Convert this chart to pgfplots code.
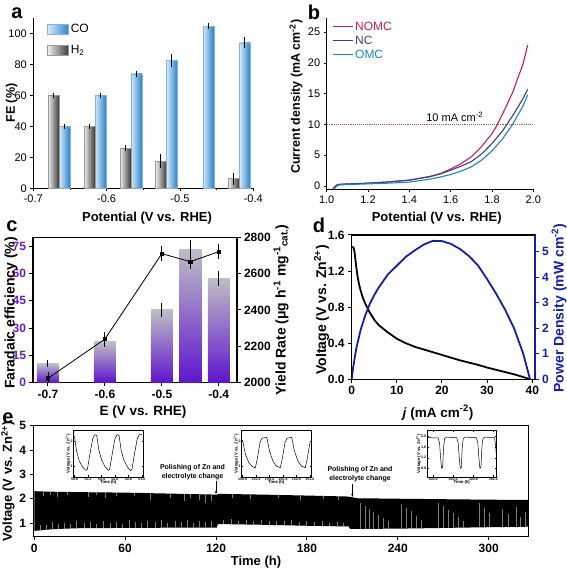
\documentclass[border=0pt]{standalone}
\usepackage{fontspec}
\setmainfont{Liberation Sans}
\usepackage{pgfplots}
\pgfplotsset{compat=1.18}
\usetikzlibrary{arrows.meta}
\definecolor{cob}{RGB}{45,130,200}
\definecolor{cobl}{RGB}{215,235,250}
\definecolor{hd}{RGB}{60,60,60}
\definecolor{hl}{RGB}{240,240,240}
\definecolor{nomc}{RGB}{200,30,80}
\definecolor{nc}{RGB}{60,62,145}
\definecolor{omc}{RGB}{25,135,185}
\definecolor{pur}{RGB}{100,30,205}
\definecolor{purbar}{RGB}{95,20,205}
\definecolor{greybar}{RGB}{190,190,196}
\definecolor{pblue}{RGB}{20,30,170}
\definecolor{spk}{RGB}{125,125,125}
\newcommand{\fs}[1]{\fontsize{#1}{#1}\selectfont}
\pgfplotsset{every axis/.append style={scale only axis, anchor=south west,
  /pgf/number format/assume math mode=true, /pgf/number format/1000 sep={}},
  inset/.style={width=69.5pt, height=47pt, tick align=inside, major tick length=1.5pt,
  axis line style={line width=0.4pt}, tick style={line width=0.3pt, black},
  ticklabel style={font=\bfseries\fs{3.6}, inner sep=0.6pt},
  xlabel={Time (h)}, ylabel={Voltage (V vs. Zn\textsuperscript{2+})},
  label style={font=\bfseries\fs{4.2}},
  xlabel style={yshift=4pt}, ylabel style={yshift=-4pt}},
  cobar/.style={forget plot, ybar, bar width=0.015, bar shift=0pt, draw=cob!60!white, line width=0.4pt, left color=cobl, right color=cob},
  hbar/.style={forget plot, ybar, bar width=0.015, bar shift=0pt, draw=gray!80, line width=0.4pt, left color=hl, right color=hd},
  fbar/.style={forget plot, ybar, bar width=0.0386, bar shift=0pt, draw=none, top color=greybar, bottom color=purbar}}
\begin{document}
\begin{tikzpicture}[x=1pt,y=1pt]
\useasboundingbox (0,0) rectangle (567,571);
%================ panel a
\begin{axis}[at={(33.3pt,382.7pt)}, width=220pt, height=170.3pt,
  xmin=-0.7, xmax=-0.4, ymin=0, ymax=110,
  axis x line*=bottom, axis y line*=left, axis line style={line width=0.7pt},
  xtick={-0.7,-0.6,-0.5,-0.4}, xticklabels={-0.7,-0.6,-0.5,-0.4}, minor xtick={-0.65,-0.55,-0.45},
  ytick={0,20,40,60,80,100},
  tick align=outside, major tick length=3pt, minor tick length=2pt, tick style={line width=0.7pt, black},
  ticklabel style={font=\fs{11}},
  legend style={at={(0.063,0.975)}, anchor=north west, draw=none, fill=none, font=\fs{12}, row sep=7pt, inner sep=0pt},
  legend cell align=left]
\addlegendimage{legend image code/.code={\draw[draw=cob!60!white,line width=0.4pt,left color=cobl,right color=cob] (0pt,-5pt) rectangle (21pt,5pt);}}
\addlegendentry{CO}
\addlegendimage{legend image code/.code={\draw[draw=gray!80,line width=0.4pt,left color=hl,right color=hd] (0pt,-5pt) rectangle (21pt,5pt);}}
\addlegendentry{H\textsubscript{2}}
\addplot[cobar] coordinates {(-0.6575,40)};
\addplot[cobar] coordinates {(-0.6085,60)};
\addplot[cobar] coordinates {(-0.5595,74)};
\addplot[cobar] coordinates {(-0.511,82.5)};
\addplot[cobar] coordinates {(-0.4614,104.7)};
\addplot[cobar] coordinates {(-0.4117,94)};
\addplot[hbar] coordinates {(-0.6725,60)};
\addplot[hbar] coordinates {(-0.6235,40)};
\addplot[hbar] coordinates {(-0.5745,26)};
\addplot[hbar] coordinates {(-0.526,17.5)};
\addplot[hbar] coordinates {(-0.4267,6.2)};
\addplot[forget plot, draw=none, mark=none, error bars/.cd, y dir=both, y explicit,
  error bar style={draw=black, line width=0.8pt}, error mark options={draw=black, line width=0.8pt, mark size=1.6pt}]
 coordinates {(-0.6575,40) +- (0,0.6) (-0.6085,60) +- (0,0.6) (-0.5595,74) +- (0,1) (-0.511,82.5) +- (0,3) (-0.4614,104.7) +- (0,1) (-0.4117,94) +- (0,2.5)
 (-0.6725,60) +- (0,0.6) (-0.6235,40) +- (0,0.6) (-0.5745,26) +- (0,1) (-0.526,17.5) +- (0,3.5) (-0.4267,6.2) +- (0,2.8)};
\end{axis}
%================ panel b
\begin{axis}[at={(326.7pt,381.7pt)}, width=206.6pt, height=171.3pt,
  xmin=1.0, xmax=2.0, ymin=-0.55, ymax=27.3,
  axis x line*=bottom, axis y line*=left, axis line style={line width=0.7pt},
  xtick={1.0,1.2,1.4,1.6,1.8,2.0}, xticklabels={1.0,1.2,1.4,1.6,1.8,2.0},
  ytick={0,5,10,15,20,25},
  tick align=outside, major tick length=3pt, tick style={line width=0.7pt, black},
  ticklabel style={font=\fs{11}},
  legend style={at={(0.025,0.99)}, anchor=north west, draw=none, fill=none, font=\fs{12}, row sep=0pt, inner sep=0pt},
  legend cell align=left,
  legend image code/.code={\draw[#1] (0pt,0pt) -- (20pt,0pt);}]
\addplot[nomc, line width=1.1pt] coordinates {(1.03,-0.55) (1.04,-0.1) (1.05,0.15) (1.06,0.25) (1.1,0.32) (1.2,0.45) (1.3,0.65) (1.4,0.95) (1.5,1.55) (1.55,2.0) (1.6,2.75) (1.65,3.6) (1.7,4.75) (1.75,6.4) (1.8,8.5) (1.82,9.6) (1.85,11.6) (1.9,15.2) (1.95,19.8) (1.973,22.9)};
\addlegendentry{\textcolor{nomc}{NOMC}}
\addplot[nc, line width=1.1pt] coordinates {(1.03,-0.55) (1.04,-0.1) (1.05,0.15) (1.06,0.25) (1.1,0.32) (1.2,0.45) (1.3,0.65) (1.4,0.93) (1.5,1.5) (1.55,1.95) (1.6,2.55) (1.65,3.2) (1.7,3.95) (1.75,5.2) (1.8,6.9) (1.85,8.9) (1.87,9.9) (1.9,11.4) (1.95,14.2) (1.973,15.7)};
\addlegendentry{\textcolor{nc}{NC}}
\addplot[omc, line width=1.1pt] coordinates {(1.035,-0.55) (1.045,-0.15) (1.055,0.1) (1.07,0.18) (1.1,0.22) (1.2,0.33) (1.3,0.45) (1.4,0.62) (1.5,1.1) (1.55,1.45) (1.6,1.85) (1.65,2.4) (1.7,3.1) (1.75,4.2) (1.8,5.7) (1.85,7.6) (1.9,10.0) (1.95,13.0) (1.973,14.8)};
\addlegendentry{\textcolor{omc}{OMC}}
\addplot[forget plot, densely dotted, color=nomc!45!gray, line width=0.9pt] coordinates {(1.0,10) (2.0,10)};
\node[font=\fs{11}] at (axis cs:1.62,11.3) {10 mA cm\textsuperscript{-2}};
\end{axis}
%================ panel c
\begin{axis}[at={(33pt,188.3pt)}, width=204pt, height=145.4pt,
  xmin=-0.7263, xmax=-0.368, ymin=0, ymax=80,
  xtick={-0.7,-0.6,-0.5,-0.4}, xticklabels={-0.7,-0.6,-0.5,-0.4},
  ytick={0,15,30,45,60,75}, ytick pos=left, xtick pos=bottom,
  yticklabel style={color=pur}, tick align=outside, major tick length=3.5pt,
  axis line style={line width=1.2pt}, tick style={line width=1pt, black},
  ticklabel style={font=\bfseries\fs{12}}]
\addplot[fbar] coordinates {(-0.7,10.5)};
\addplot[fbar] coordinates {(-0.6,22.5)};
\addplot[fbar] coordinates {(-0.5,40)};
\addplot[fbar] coordinates {(-0.45,73.5)};
\addplot[fbar] coordinates {(-0.4,57.5)};
\addplot[draw=none, mark=none, error bars/.cd, y dir=both, y explicit,
  error bar style={draw=black, line width=1pt}, error mark options={draw=black, line width=1pt, mark size=2.4pt}]
 coordinates {(-0.7,10.5) +- (0,0.5) (-0.6,22.5) +- (0,1.5) (-0.5,40) +- (0,2.3) (-0.45,73.5) +- (0,3.5) (-0.4,57.5) +- (0,2.7)};
\end{axis}
\begin{axis}[at={(33pt,188.3pt)}, width=204pt, height=145.4pt,
  xmin=-0.7263, xmax=-0.368, ymin=2000, ymax=2800,
  axis y line*=right, axis x line=none, ytick={2000,2200,2400,2600,2800},
  tick align=outside, major tick length=3.5pt,
  axis line style={line width=1.2pt}, tick style={line width=1pt, black},
  ticklabel style={font=\bfseries\fs{12}}]
\addplot[black, line width=0.8pt, mark=square*, mark size=1.6pt, error bars/.cd, y dir=both, y explicit,
  error bar style={line width=0.9pt}, error mark options={line width=0.9pt, mark size=2.4pt}]
 coordinates {(-0.7,2024) +- (0,20) (-0.6,2240) +- (0,25) (-0.5,2710) +- (0,28) (-0.45,2666) +- (0,27) (-0.4,2721) +- (0,27)};
\end{axis}
%================ panel d
\begin{axis}[at={(351.7pt,191.7pt)}, width=183.3pt, height=144.3pt,
  xmin=0, xmax=40.6, ymin=0, ymax=1.6,
  xtick={0,10,20,30,40}, ytick={0,0.4,0.8,1.2,1.6}, yticklabels={0.0,0.4,0.8,1.2,1.6},
  ytick pos=left, xtick pos=bottom, tick align=outside, major tick length=3.5pt,
  axis line style={line width=1.2pt}, tick style={line width=1pt, black},
  ticklabel style={font=\bfseries\fs{12}}]
\addplot[black, line width=1.8pt] coordinates {(0.1,1.47) (0.4,1.46) (0.6,1.42) (0.8,1.34) (1.0,1.25) (1.3,1.14) (1.6,1.06) (2,0.98) (2.5,0.9) (3,0.84) (4,0.74) (5,0.66) (6,0.6) (7,0.56) (8,0.52) (10,0.45) (12,0.40) (14,0.36) (16,0.33) (18,0.30) (20,0.27) (22,0.24) (24,0.21) (26,0.185) (28,0.16) (30,0.13) (32,0.105) (34,0.08) (36,0.055) (38,0.025) (39.5,0.0)};
\end{axis}
\begin{axis}[at={(351.7pt,191.7pt)}, width=183.3pt, height=144.3pt,
  xmin=0, xmax=40.6, ymin=0, ymax=5.65,
  axis y line*=right, axis x line=none, ytick={0,1,2,3,4,5},
  yticklabel style={color=pblue}, y axis line style={pblue},
  tick align=outside, major tick length=3.5pt,
  axis line style={line width=1.2pt}, tick style={line width=1pt, pblue},
  ticklabel style={font=\bfseries\fs{12}}]
\addplot[pblue, line width=1.8pt] coordinates {(0,0) (0.3,0.44) (1,1.2) (2,1.95) (3,2.5) (4,2.95) (5,3.3) (6,3.6) (8,4.1) (10,4.45) (12,4.8) (14,5.05) (16,5.28) (18,5.42) (20,5.41) (22,5.3) (24,5.1) (26,4.82) (28,4.45) (30,3.92) (32,3.35) (34,2.72) (36,1.98) (38,1.0) (39.5,0.0)};
\end{axis}
%================ panel e
\begin{axis}[at={(33.2pt,34.3pt)}, width=495.2pt, height=111pt,
  xmin=-0.7, xmax=326.2, ymin=0.44, ymax=5,
  xtick={0,60,120,180,240,300}, ytick={1,2,3,4,5},
  tick align=outside, major tick length=3.5pt, xtick pos=bottom, ytick pos=left,
  axis line style={line width=1.2pt}, tick style={line width=1pt, black},
  ticklabel style={font=\bfseries\fs{12}}, clip=false]
\addplot[fill=black, draw=none] coordinates {(0,2.31) (10,2.29) (30,2.27) (60,2.25) (90,2.21) (119.5,2.17) (120.5,2.16) (121.5,2.20) (150,2.17) (180,2.13) (207,2.09) (210,2.06) (213,2.02) (240,2.0) (270,1.98) (300,1.96) (326,1.95)
 (326,0.85) (300,0.83) (270,0.80) (240,0.77) (210,0.76) (208.5,0.76) (207.5,0.86) (180,0.89) (150,0.93) (122,0.96) (121.2,0.96) (120.5,0.81) (90,0.81) (60,0.80) (30,0.79) (20,0.77) (8,0.73) (4,0.70) (0,0.68)};
\addplot[draw=none, mark=none, error bars/.cd, y dir=plus, y explicit, error mark=none,
  error bar style={draw=spk, line width=0.9pt}]
 table[x=t, y=lo, y error=h] {
t lo h
4 0.70 0.22
8 0.73 0.18
12 0.75 0.28
16 0.76 0.20
20 0.77 0.25
24 0.78 0.18
28 0.79 0.30
33 0.79 0.20
37 0.79 0.26
41 0.80 0.18
46 0.80 0.30
50 0.80 0.22
54 0.80 0.25
58 0.80 0.18
63 0.80 0.32
67 0.80 0.24
71 0.80 0.20
75 0.80 0.28
80 0.81 0.22
84 0.81 0.30
88 0.81 0.20
93 0.81 0.26
97 0.81 0.22
101 0.81 0.30
105 0.81 0.20
109 0.81 0.26
113 0.81 0.22
117 0.81 0.28
125 0.96 0.15
130 0.95 0.20
135 0.95 0.14
140 0.94 0.18
145 0.94 0.15
150 0.93 0.20
155 0.93 0.14
160 0.92 0.18
165 0.92 0.15
170 0.91 0.20
175 0.90 0.14
180 0.89 0.18
185 0.89 0.15
190 0.88 0.20
195 0.87 0.14
200 0.86 0.18
204 0.86 0.15
215 0.76 1.05
218.3 0.76 0.95
221.6 0.76 0.82
223.8 0.76 0.70
227.1 0.76 0.58
230.4 0.77 0.45
233.7 0.77 0.30
242.5 0.77 1.00
245.8 0.77 0.85
249.1 0.78 0.70
252.4 0.78 0.52
255.7 0.78 0.35
266.7 0.79 1.02
270 0.79 0.90
273.3 0.80 0.75
276.6 0.80 0.60
279.9 0.80 0.45
283.2 0.80 0.30
294.2 0.82 1.00
297.5 0.82 0.80
300.8 0.82 0.60
309 0.83 0.75
313 0.83 0.55
318 0.83 0.85
321 0.84 0.40
324 0.84 0.60
};
\addplot[draw=none, mark=none, error bars/.cd, y dir=minus, y explicit, error mark=none,
  error bar style={draw=spk, line width=0.9pt}]
 table[x=t, y=hi, y error=h] {
t hi h
6 2.30 0.18
11 2.29 0.12
15 2.29 0.22
22 2.28 0.14
36 2.27 0.18
41 2.26 0.12
47 2.26 0.25
54 2.25 0.15
66 2.24 0.14
77 2.23 0.28
90 2.21 0.18
99 2.20 0.30
103 2.20 0.18
109 2.19 0.25
113 2.18 0.35
117 2.18 0.28
131 2.19 0.14
143 2.17 0.18
161 2.15 0.12
176 2.14 0.18
191 2.12 0.12
201 2.10 0.16
};
\draw[-{Stealth[length=3pt,width=2.5pt]}, line width=0.6pt] (axis cs:120,2.73) -- (axis cs:120,2.2);
\draw[-{Stealth[length=3pt,width=2.5pt]}, line width=0.6pt] (axis cs:210,2.61) -- (axis cs:210,2.08);
\end{axis}
%---- insets
\begin{axis}[inset, at={(73.5pt,94pt)}, xmin=49.985, xmax=51.015, ymin=0.55, ymax=2.45,
  xtick={50,50.2,50.4,50.6,50.8,51}, xticklabels={50.0,50.2,50.4,50.6,50.8,51.0}, ytick={1,2}]
\addplot[black, line width=0.5pt] coordinates {(50.00,2.20) (50.03,1.60) (50.07,1.20) (50.12,0.95) (50.17,0.82) (50.19,0.85) (50.23,1.50) (50.27,2.10) (50.30,2.26) (50.33,2.23) (50.36,1.65) (50.40,1.25) (50.45,0.98) (50.50,0.82) (50.52,0.85) (50.56,1.50) (50.60,2.10) (50.63,2.26) (50.66,2.23) (50.69,1.65) (50.73,1.25) (50.78,0.98) (50.83,0.80) (50.85,0.85) (50.89,1.50) (50.93,2.10) (50.96,2.26) (51.00,2.26)};
\end{axis}
\begin{axis}[inset, at={(241.5pt,94pt)}, xmin=149.985, xmax=151.015, ymin=0.55, ymax=2.45,
  xtick={150,150.2,150.4,150.6,150.8,151}, xticklabels={150.0,150.2,150.4,150.6,150.8,151.0}, ytick={1,2}]
\addplot[black, line width=0.5pt] coordinates {(150.00,2.05) (150.04,1.50) (150.09,1.15) (150.14,0.98) (150.19,0.92) (150.22,1.30) (150.26,1.95) (150.29,2.12) (150.36,2.15) (150.40,1.60) (150.45,1.20) (150.50,1.00) (150.56,0.92) (150.59,1.30) (150.63,1.95) (150.66,2.12) (150.73,2.15) (150.77,1.60) (150.82,1.20) (150.87,1.00) (150.93,0.92) (150.96,1.30) (151.00,1.95)};
\end{axis}
\begin{axis}[inset, at={(427pt,94pt)}, xmin=299.88, xmax=301.26, ymin=0.47, ymax=2.25,
  xtick={300,300.4,300.8,301.2}, xticklabels={300.0,300.4,300.8,301.2},
  ytick={0.8,1.2,1.6,2.0}, yticklabels={0.8,1.2,1.6,2.0}]
\addplot[black, line width=0.5pt] coordinates {(299.90,1.96) (300.10,1.95) (300.13,1.75) (300.15,1.20) (300.17,0.80) (300.19,0.82) (300.21,1.60) (300.23,1.93) (300.27,1.98) (300.47,1.96) (300.50,1.75) (300.52,1.20) (300.54,0.80) (300.56,0.82) (300.58,1.60) (300.60,1.93) (300.64,1.98) (300.86,1.96) (300.89,1.75) (300.91,1.20) (300.93,0.80) (300.95,0.82) (300.97,1.60) (300.99,1.93) (301.03,1.98) (301.22,1.96) (301.24,1.70) (301.26,1.20)};
\end{axis}
%---- annotations e
\node[font=\bfseries\fs{7}, align=center, inner sep=0pt] at (192.5,98.75) {Polishing of Zn and\\[1.5pt]electrolyte change};
\node[font=\bfseries\fs{7}, align=center, inner sep=0pt] at (360,96.75) {Polishing of Zn and\\[1.5pt]electrolyte change};
%---- panel letters
\node[font=\bfseries\fs{20}] at (17,558) {a};
\node[font=\bfseries\fs{20}] at (314,559) {b};
\node[font=\bfseries\fs{20}] at (12,345) {c};
\node[font=\bfseries\fs{20}] at (319,346) {d};
\node[font=\bfseries\fs{20}] at (8,152.5) {e};
%---- axis labels
\node[font=\bfseries\fs{13}] at (147,353) {Potential (V vs. RHE)};
\node[font=\bfseries\fs{12.5}, rotate=90] at (11.7,468) {FE (\%)};
\node[font=\bfseries\fs{13}] at (436.7,352.7) {Potential (V vs. RHE)};
\node[font=\bfseries\fs{12.5}, rotate=90] at (296,474.3) {Current density (mA cm\textsuperscript{-2})};
\node[font=\bfseries\fs{13.5}] at (143,158.5) {E (V vs. RHE)};
\node[font=\bfseries\fs{14}, rotate=90] at (11,258) {Faradaic efficiency (\%)};
\node[font=\bfseries\fs{14}, rotate=90] at (281,261) {Yield Rate (μg h\textsuperscript{-1} mg\textsuperscript{-1}\textsubscript{cat.})};
\node[font=\bfseries\fs{13.5}] at (438,158.5) {\textit{j} (mA cm\textsuperscript{-2})};
\node[font=\bfseries\fs{14}, rotate=90] at (321.5,261) {Voltage (V vs. Zn\textsuperscript{2+})};
\node[font=\bfseries\fs{14}, rotate=90, text=pblue] at (559,263) {Power Density (mW cm\textsuperscript{-2})};
\node[font=\bfseries\fs{13}] at (256,9) {Time (h)};
\node[font=\bfseries\fs{13}, rotate=90] at (8,90) {Voltage (V vs. Zn\textsuperscript{2+})};
\end{tikzpicture}
\end{document}
